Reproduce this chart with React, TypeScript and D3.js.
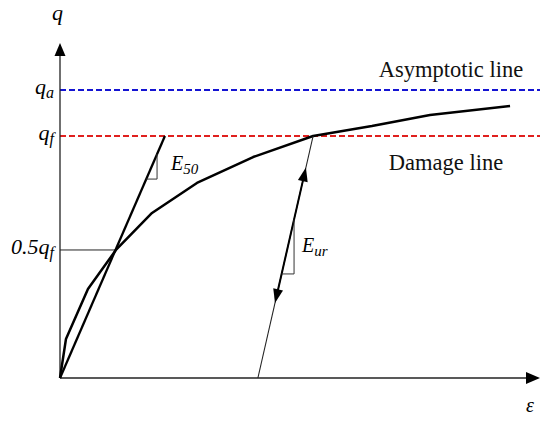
import React, { useEffect, useRef } from 'react';
import * as d3 from 'd3';

// stress-strain curve (strain in arbitrary units, stress as fraction of qf)
const curveStrain = [0, 0.025, 0.117, 0.234, 0.385, 0.573, 0.808, 1.059, 1.305, 1.548, 1.883];
const curveStress = [0, 0.161, 0.368, 0.529, 0.682, 0.806, 0.913, 1.0, 1.041, 1.087, 1.124];

const qAsymptote = 1.19;
const qFailure = 1.0;
const qHalf = 0.529; // drawn level of the 0.5qf mark (schematic)

// secant modulus E50 line: origin to qf
const e50Strain = [0, 0.439];
const e50Stress = [0, 1.0];

// unload-reload line
const eurStrain = [0.828, 1.059];
const eurStress = [0, 1.0];

const App = () => {
  const svgRef = useRef<SVGSVGElement>(null);

  useEffect(() => {
    const svg = d3.select(svgRef.current);
    svg.selectAll('*').remove();

    const width = 550;
    const height = 424;
    const x = d3.scaleLinear().domain([0, 2]).range([60, 538]);
    const y = d3.scaleLinear().domain([0, 1]).range([378, 136]);

    svg.attr('width', width).attr('height', height);
    svg.append('rect').attr('width', width).attr('height', height).attr('fill', '#fff');

    const serif = "'Liberation Serif', 'Times New Roman', serif";

    // dashed reference lines
    svg.append('line')
      .attr('x1', x(0)).attr('x2', 540)
      .attr('y1', y(qAsymptote)).attr('y2', y(qAsymptote))
      .attr('stroke', '#1414d2').attr('stroke-width', 2).attr('stroke-dasharray', '6,3');
    svg.append('line')
      .attr('x1', x(0)).attr('x2', 540)
      .attr('y1', y(qFailure)).attr('y2', y(qFailure))
      .attr('stroke', '#e0201e').attr('stroke-width', 2).attr('stroke-dasharray', '6,3');

    // axes
    svg.append('line')
      .attr('x1', x(0)).attr('x2', x(0)).attr('y1', y(0)).attr('y2', 52)
      .attr('stroke', '#222').attr('stroke-width', 1.3);
    svg.append('line')
      .attr('x1', x(0)).attr('x2', 530).attr('y1', y(0)).attr('y2', y(0))
      .attr('stroke', '#222').attr('stroke-width', 1.3);
    svg.append('path')
      .attr('d', `M${x(0)},43 L${x(0) - 5.5},56 L${x(0) + 5.5},56 Z`)
      .attr('fill', '#000');
    svg.append('path')
      .attr('d', `M540,${y(0)} L526,${y(0) - 6} L526,${y(0) + 6} Z`)
      .attr('fill', '#000');

    // 0.5qf marker
    const halfPt = curveStrain[curveStress.indexOf(qHalf)];
    svg.append('line')
      .attr('x1', x(0)).attr('x2', x(halfPt))
      .attr('y1', y(qHalf)).attr('y2', y(qHalf))
      .attr('stroke', '#222').attr('stroke-width', 1);

    // main curve
    const line = d3.line<number>()
      .x((d, i) => x(curveStrain[i]))
      .y((d) => y(d));
    svg.append('path')
      .attr('d', line(curveStress))
      .attr('fill', 'none').attr('stroke', '#000').attr('stroke-width', 2.5)
      .attr('stroke-linejoin', 'round');

    // E50 line
    svg.append('line')
      .attr('x1', x(e50Strain[0])).attr('y1', y(e50Stress[0]))
      .attr('x2', x(e50Strain[1])).attr('y2', y(e50Stress[1]))
      .attr('stroke', '#000').attr('stroke-width', 2.3);

    // E50 slope triangle
    const e50At = (s: number) => x(e50Strain[1] * s / e50Stress[1]);
    const tTop = 0.925, tBot = 0.822;
    svg.append('path')
      .attr('d', `M${e50At(tTop)},${y(tTop)} L${e50At(tTop)},${y(tBot)} L${e50At(tBot)},${y(tBot)}`)
      .attr('fill', 'none').attr('stroke', '#333').attr('stroke-width', 1);

    const e50Label = svg.append('text')
      .attr('x', 171).attr('y', 170)
      .attr('font-family', serif).attr('font-style', 'italic').attr('font-size', 20);
    e50Label.append('tspan').text('E');
    e50Label.append('tspan').attr('dy', 4).attr('font-size', 15).text('50');

    // Eur line
    const eurAt = (s: number) =>
      x(eurStrain[0] + (eurStrain[1] - eurStrain[0]) * s / eurStress[1]);
    svg.append('line')
      .attr('x1', eurAt(0)).attr('y1', y(0))
      .attr('x2', eurAt(1)).attr('y2', y(1))
      .attr('stroke', '#222').attr('stroke-width', 1.1);
    const upS = 0.83, downS = 0.35;
    svg.append('line')
      .attr('x1', eurAt(downS)).attr('y1', y(downS))
      .attr('x2', eurAt(upS)).attr('y2', y(upS))
      .attr('stroke', '#000').attr('stroke-width', 2);

    // arrowheads along Eur line
    const ang = Math.atan2(y(1) - y(0), eurAt(1) - eurAt(0));
    const arrow = (s: number, dir: number) => {
      const tx = eurAt(s), ty = y(s);
      const a = dir > 0 ? ang : ang + Math.PI;
      const len = 14, hw = 5;
      const bx = tx - len * Math.cos(a), by = ty - len * Math.sin(a);
      const px = -Math.sin(a) * hw, py = Math.cos(a) * hw;
      svg.append('path')
        .attr('d', `M${tx},${ty} L${bx + px},${by + py} L${bx - px},${by - py} Z`)
        .attr('fill', '#000');
    };
    arrow(0.87, 1);
    arrow(0.31, -1);

    // Eur slope triangle
    const uTop = 0.655, uBot = 0.43;
    svg.append('path')
      .attr('d', `M${eurAt(uTop)},${y(uTop)} L${eurAt(uTop)},${y(uBot)} L${eurAt(uBot)},${y(uBot)}`)
      .attr('fill', 'none').attr('stroke', '#333').attr('stroke-width', 1);

    const eurLabel = svg.append('text')
      .attr('x', 302).attr('y', 252)
      .attr('font-family', serif).attr('font-style', 'italic').attr('font-size', 20);
    eurLabel.append('tspan').text('E');
    eurLabel.append('tspan').attr('dy', 4).attr('font-size', 15).text('ur');

    // axis labels
    svg.append('text')
      .attr('x', 52).attr('y', 20)
      .attr('font-family', serif).attr('font-style', 'italic').attr('font-size', 22)
      .text('q');
    svg.append('text')
      .attr('x', 530).attr('y', 412)
      .attr('font-family', serif).attr('font-style', 'italic').attr('font-size', 20)
      .attr('text-anchor', 'middle')
      .text('ε');

    const tickLabel = (val: number, pre: string, sub: string) => {
      const t = svg.append('text')
        .attr('x', 54).attr('y', y(val) + 4)
        .attr('text-anchor', 'end')
        .attr('font-family', serif).attr('font-style', 'italic').attr('font-size', 22);
      t.append('tspan').text(pre);
      t.append('tspan').attr('dy', 4).attr('font-size', 16).text(sub);
    };
    tickLabel(qAsymptote, 'q', 'a');
    tickLabel(qFailure, 'q', 'f');
    tickLabel(qHalf, '0.5q', 'f');

    svg.append('text')
      .attr('x', 451).attr('y', 77)
      .attr('text-anchor', 'middle')
      .attr('font-family', serif).attr('font-size', 22.5).attr('fill', '#111')
      .text('Asymptotic line');
    svg.append('text')
      .attr('x', 446).attr('y', 170)
      .attr('text-anchor', 'middle')
      .attr('font-family', serif).attr('font-size', 22.5).attr('fill', '#111')
      .text('Damage line');
  }, []);

  return (
    <svg ref={svgRef} width={550} height={424}
      style={{ position: 'absolute', left: 0, top: 0 }} />
  );
};

export default App;
